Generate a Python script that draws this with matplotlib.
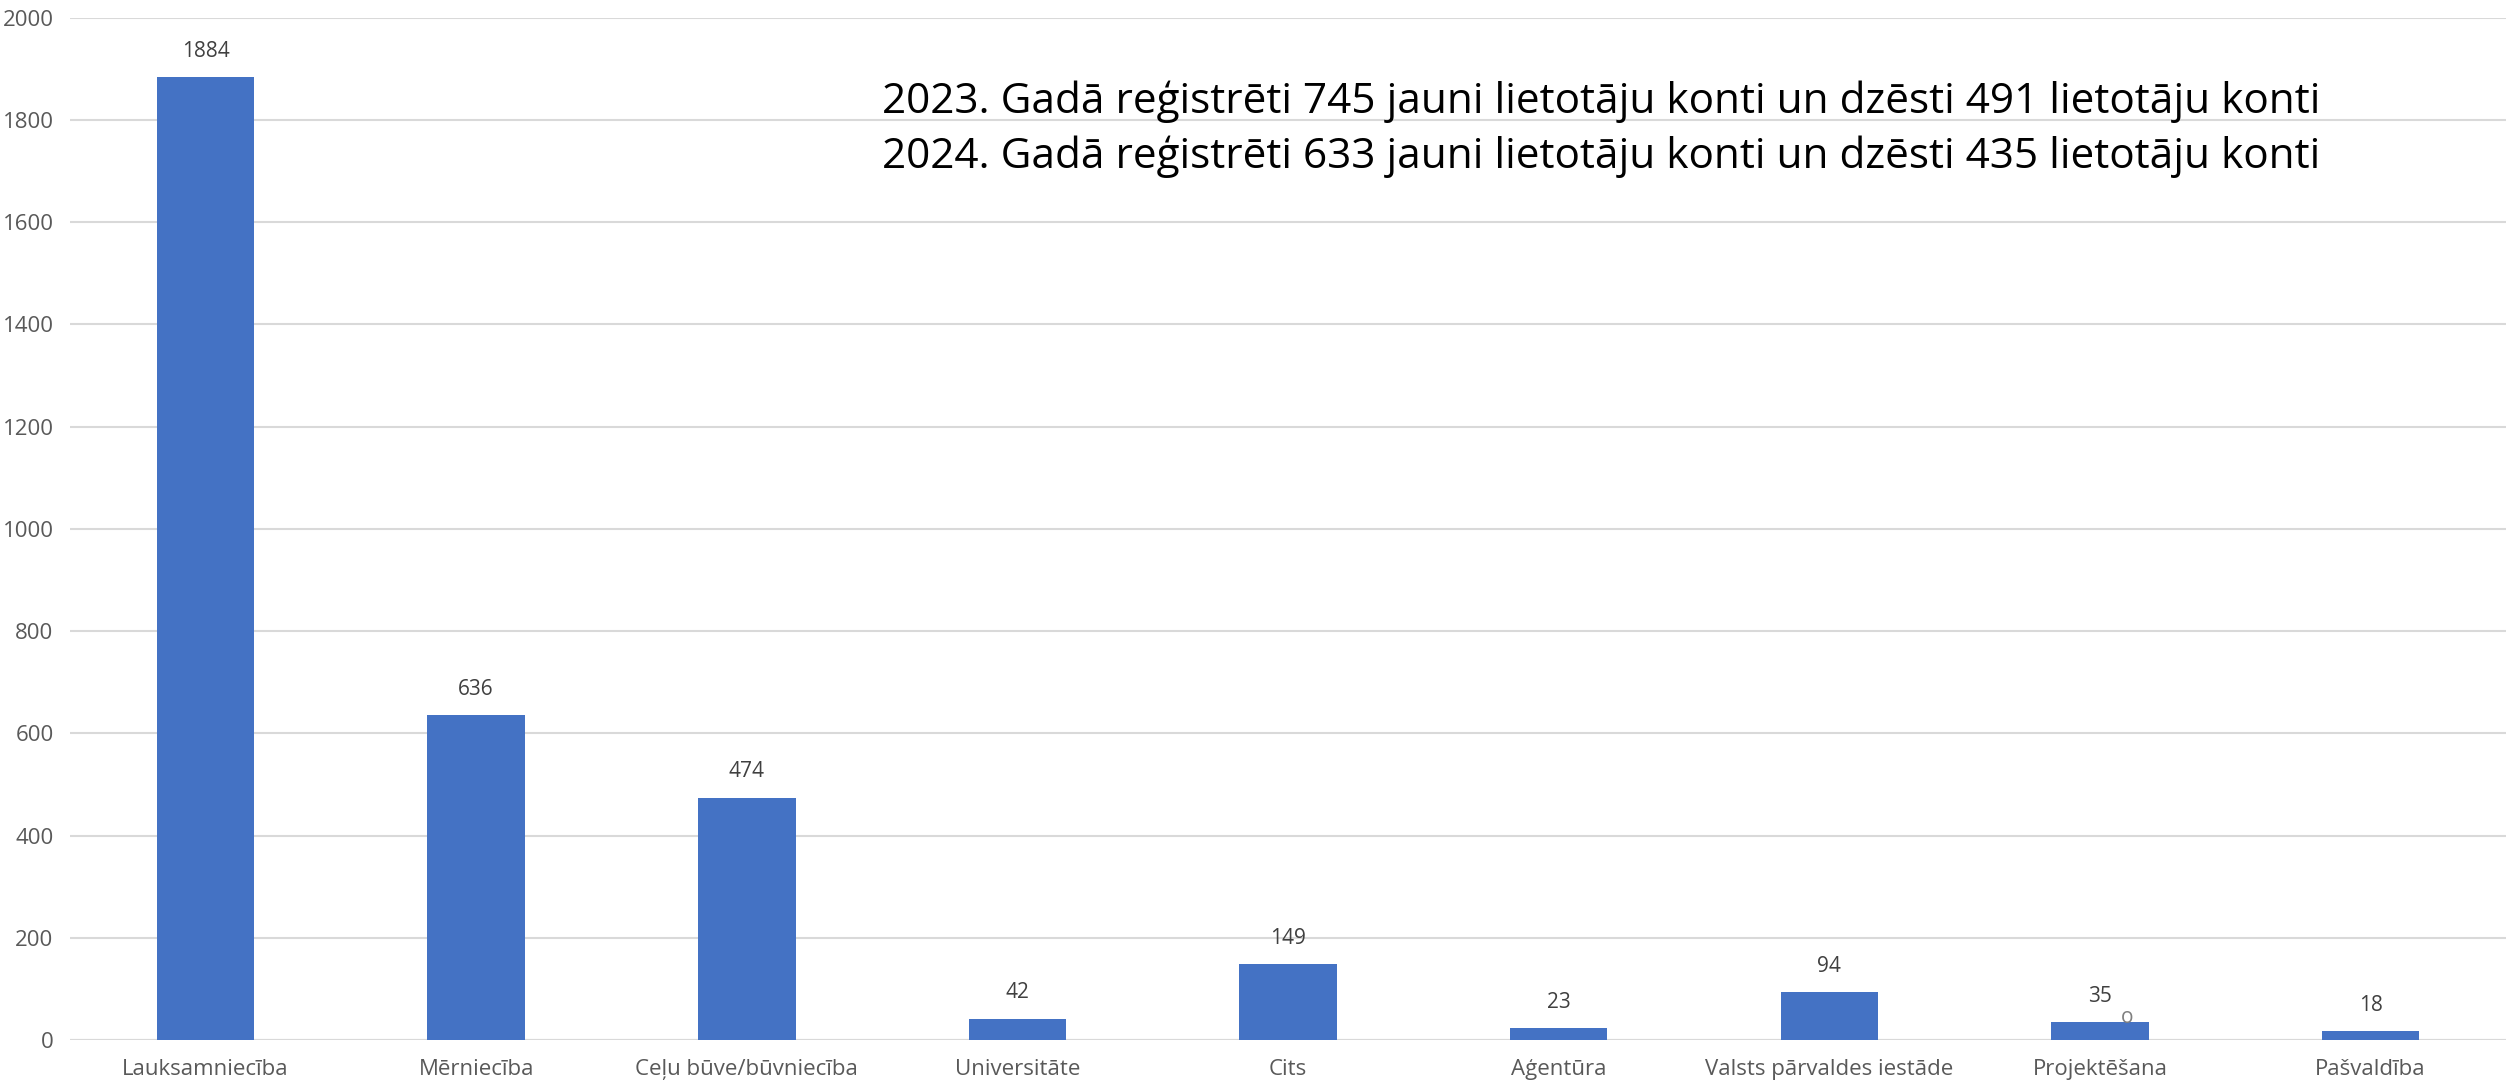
import matplotlib.pyplot as plt
import numpy as np

plt.rcParams['font.family'] = ['Open Sans', 'DejaVu Sans']

categories = ['Lauksamniecība', 'Mērniecība', 'Ceļu būve/būvniecība', 'Universitāte', 'Cits',
              'Aģentūra', 'Valsts pārvaldes iestāde', 'Projektēšana', 'Pašvaldība']
values = [1884, 636, 474, 42, 149, 23, 94, 35, 18]
note_lines = ['2023. Gadā reģistrēti 745 jauni lietotāju konti un dzēsti 491 lietotāju konti',
              '2024. Gadā reģistrēti 633 jauni lietotāju konti un dzēsti 435 lietotāju konti']

fig = plt.figure(figsize=(25.06, 10.84), dpi=100)
ax = fig.add_axes([0.028, 0.0406, 0.972, 0.9432])

x = np.arange(len(categories))
bars = ax.bar(x, values, width=0.36, color='#4472C4', zorder=3)
for b, v in zip(bars, values):
    ax.annotate(str(v), (b.get_x() + b.get_width() / 2, v), xytext=(0, 11),
                textcoords='offset points', ha='center', va='bottom',
                fontsize=15, color='#404040')

# small stray mark at the Projektēšana bar
ax.text(x[7] + 0.1, values[7] - 12, 'o', ha='center', va='bottom', fontsize=15, color='#7f7f7f', zorder=4)

ax.set_xlim(-0.5, len(categories) - 0.5)
ax.set_ylim(0, 2000)
ax.set_yticks(np.arange(0, 2001, 200))
ax.yaxis.grid(True, color='#D9D9D9', linewidth=1.5, zorder=0)
ax.set_xticks(x)
ax.set_xticklabels(categories)
ax.tick_params(axis='both', length=0, labelsize=16, labelcolor='#595959')
ax.tick_params(axis='x', pad=14)
ax.tick_params(axis='y', pad=12)
for s in ax.spines.values():
    s.set_visible(False)
ax.axhline(0, color='#D9D9D9', linewidth=1.5, zorder=2)

ax.text(0.352, 0.896, note_lines[0], transform=fig.transFigure, fontsize=30.4, color='black', va='baseline')
ax.text(0.352, 0.845, note_lines[1], transform=fig.transFigure, fontsize=30.4, color='black', va='baseline')

fig.savefig('out.png', dpi=100)
